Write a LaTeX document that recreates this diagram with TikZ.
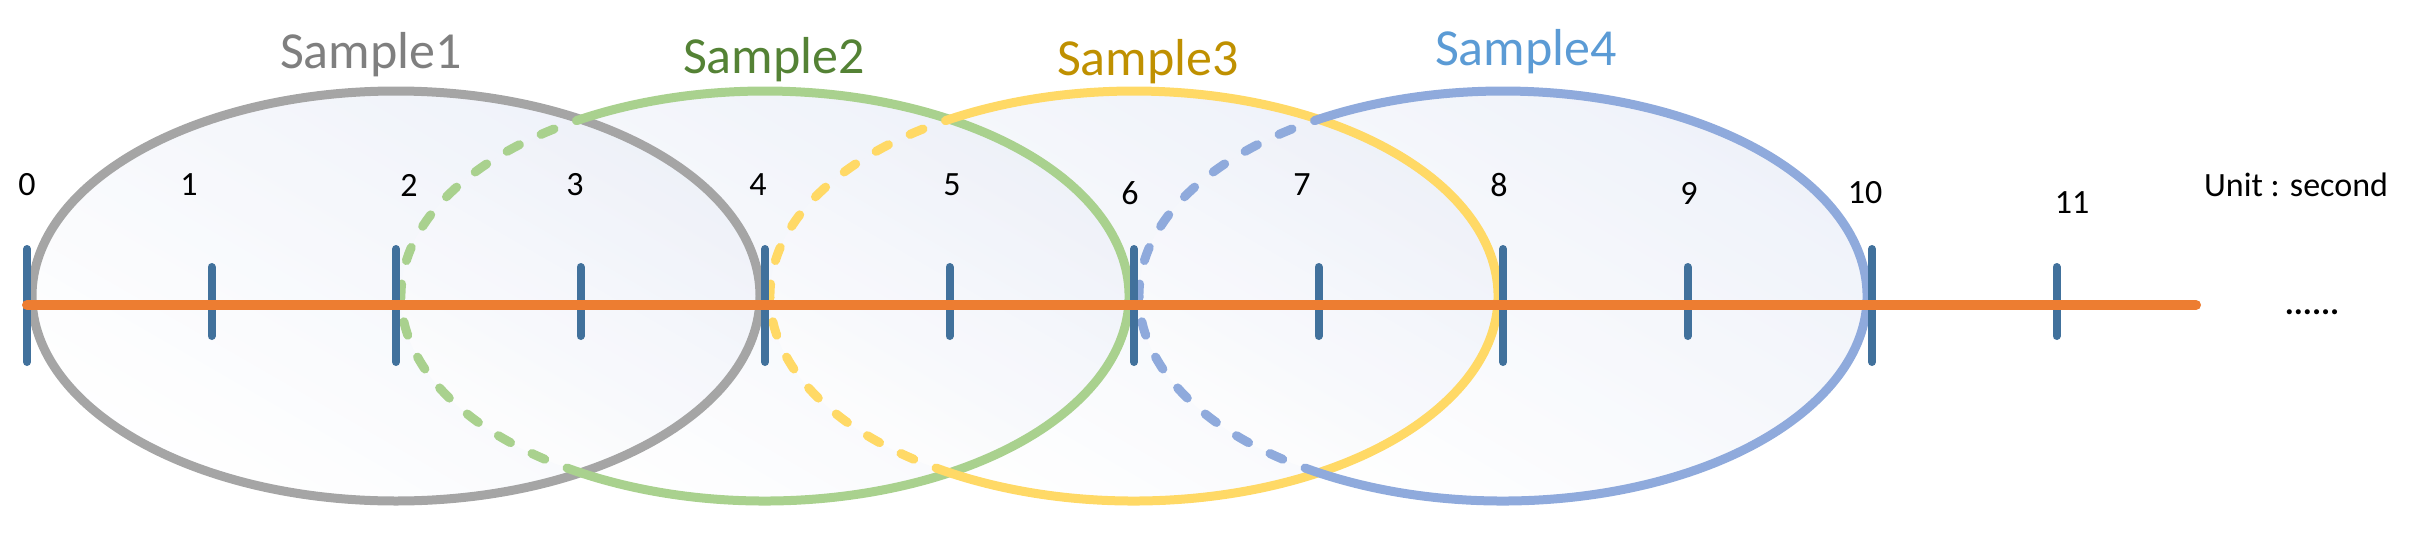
\documentclass[tikz,border=0pt]{standalone}
\usepackage{fontspec}
\setmainfont{Carlito}
\definecolor{gA}{HTML}{A5A5A5}\definecolor{gT}{HTML}{7F7F7F}
\definecolor{grA}{HTML}{A9D18E}\definecolor{grT}{HTML}{548235}
\definecolor{yA}{HTML}{FFD966}\definecolor{yT}{HTML}{BF9000}
\definecolor{bA}{HTML}{8FAADC}\definecolor{bT}{HTML}{5B9BD5}
\definecolor{tick}{HTML}{41719C}\definecolor{orng}{HTML}{ED7D31}
\definecolor{fillc}{HTML}{E4E9F5}
\begin{document}
\begin{tikzpicture}[x=1pt,y=-1pt,
  ring/.style={line width=9pt},
  dsh/.style={line width=9pt,line cap=round,dash pattern=on 14pt off 24pt},
  lab/.style={font=\fontsize{52}{60}\selectfont,inner sep=0pt},
  num/.style={font=\fontsize{34}{40}\selectfont,inner sep=0pt},
  tk/.style={tick,line width=8pt,line cap=round}]
\useasboundingbox (0,0) rectangle (2427,541);
% fills
\foreach \c in {396,765,1134,1503}{
  \shade[top color=fillc,bottom color=white,shading angle=-30,opacity=0.6] (\c,296) ellipse [x radius=364,y radius=205];}
% ellipse outlines
\draw[ring,gA] (396,296) ellipse [x radius=364,y radius=205];
\foreach \c/\col in {765/grA,1134/yA,1503/bA}{
  \draw[ring,\col] (\c,296) ++(120.5:364 and 205) arc[start angle=120.5,end angle=-120.5,x radius=364,y radius=205];
  \draw[dsh,\col] (\c,296) ++(120.5:364 and 205) arc[start angle=120.5,end angle=239.5,x radius=364,y radius=205];
}
% ticks
\foreach \k in {0,2,4,6,8,10}{ \draw[tk] ({27+184.5*\k},249) coordinate (t\k) -- ({27+184.5*\k},362);}
\foreach \k in {1,3,5,7,9,11}{ \draw[tk] ({27+184.5*\k},267) coordinate (t\k) -- ({27+184.5*\k},336);}
\coordinate (ls) at (27,305); \coordinate (le) at (2196,305);
\draw[orng,line width=10pt,line cap=round] (ls) -- (le);
% labels
\node[num] (n0) at (27,185) {0};
\node[num] (n1) at (189,185) {1};
\node[num] (n2) at (409,185) {2};
\node[num] (n3) at (575,185) {3};
\node[num] (n4) at (758,185) {4};
\node[num] (n5) at (952,185) {5};
\node[num] (n6) at (1130,193) {6};
\node[num] (n7) at (1302,185) {7};
\node[num] (n8) at (1499,185) {8};
\node[num] (n9) at (1689,193) {9};
\node[num] (n10) at (1865,193) {10};
\node[num] (n11) at (2072,203) {11};
\node[num] (u) at (2296,185) {Unit : second};
\node[num,font=\fontsize{34}{40}\selectfont\bfseries] (dots) at (2312,312) {......};
\node[lab,text=gT] (s1) at (371,55) {Sample1};
\node[lab,text=grT] (s2) at (774,60) {Sample2};
\node[lab,text=yT] (s3) at (1148,62) {Sample3};
\node[lab,text=bT] (s4) at (1526,52) {Sample4};
\end{tikzpicture}
\end{document}
